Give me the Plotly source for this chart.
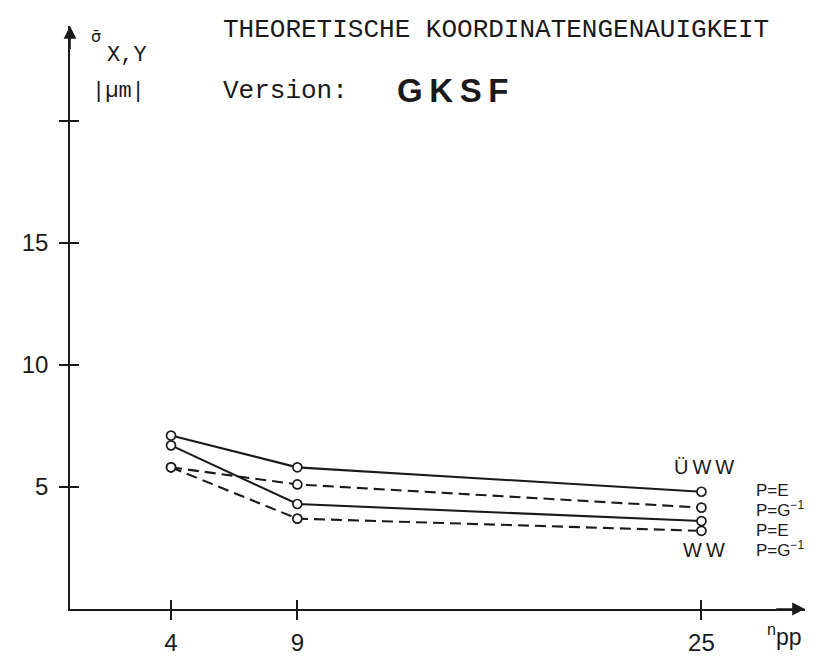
import plotly.graph_objects as go

# point count per image and the resulting mean coordinate accuracy (um)
npp = [4, 9, 25]

uww_pe = [7.1, 5.8, 4.8]
uww_pg = [5.8, 5.1, 4.15]
ww_pe = [6.7, 4.3, 3.6]
ww_pg = [5.8, 3.7, 3.2]

y_ticks = [5, 10, 15, 20]
y_tick_labels = ['5', '10', '15', '']

x_max = 29.1
y_max = 23.87

ink = '#1a1a1a'
mono = 'Liberation Mono'
sans = 'Liberation Sans'


def plot() -> None:
    fig = go.Figure()

    series = [
        ('ÜWW, P=E', uww_pe, 'solid'),
        ('ÜWW, P=G-1', uww_pg, '11px,6px'),
        ('WW, P=E', ww_pe, 'solid'),
        ('WW, P=G-1', ww_pg, '11px,6px'),
    ]
    for name, vals, dash in series:
        fig.add_trace(go.Scatter(
            x=npp, y=vals, name=name, mode='lines+markers',
            line={'color': ink, 'width': 2.1, 'dash': dash},
            marker={'symbol': 'circle', 'size': 9, 'color': 'white',
                    'line': {'color': ink, 'width': 1.7}},
            showlegend=False, cliponaxis=False,
        ))

    # empty trace so the overlay axes (inner half of the cross ticks) get drawn
    fig.add_trace(go.Scatter(x=[None], y=[None], xaxis='x2', yaxis='y2',
                             showlegend=False, hoverinfo='skip'))

    # arrow heads on the axes
    fig.add_annotation(x=x_max, y=0, ax=x_max - 1.2, ay=0, xref='x', yref='y',
                       axref='x', ayref='y', showarrow=True, arrowhead=2,
                       arrowsize=1.6, arrowwidth=1.6, arrowcolor=ink, text='')
    fig.add_annotation(x=0, y=y_max, ax=0, ay=y_max - 1.0, xref='x', yref='y',
                       axref='x', ayref='y', showarrow=True, arrowhead=2,
                       arrowsize=1.6, arrowwidth=1.6, arrowcolor=ink, text='')

    # header texts
    fig.add_annotation(x=0.206, y=0.993, xref='paper', yref='paper',
                       text='THEORETISCHE KOORDINATENGENAUIGKEIT', showarrow=False,
                       xanchor='left', yanchor='middle',
                       font={'family': mono, 'size': 26, 'color': ink})
    fig.add_annotation(x=0.206, y=0.888, xref='paper', yref='paper',
                       text='Version:', showarrow=False,
                       xanchor='left', yanchor='middle',
                       font={'family': mono, 'size': 26, 'color': ink})
    fig.add_annotation(x=0.442, y=0.889, xref='paper', yref='paper',
                       text='<b>G\u2009K\u2009S\u2009F</b>', showarrow=False,
                       xanchor='left', yanchor='middle',
                       font={'family': sans, 'size': 33, 'color': ink})

    # y axis title: sigma with bar, index X,Y and unit
    fig.add_annotation(x=0.026, y=0.982, xref='paper', yref='paper',
                       text='σ\u0304', showarrow=False,
                       xanchor='left', yanchor='middle',
                       font={'family': 'DejaVu Sans', 'size': 16, 'color': ink})
    fig.add_annotation(x=0.047, y=0.950, xref='paper', yref='paper',
                       text='X,Y', showarrow=False,
                       xanchor='left', yanchor='middle',
                       font={'family': mono, 'size': 22, 'color': ink})
    fig.add_annotation(x=0.027, y=0.888, xref='paper', yref='paper',
                       text='|µm|', showarrow=False,
                       xanchor='left', yanchor='middle',
                       font={'family': mono, 'size': 22, 'color': ink})

    # x axis title
    fig.add_annotation(x=0.945, y=-0.045, xref='paper', yref='paper',
                       text='<sup>n</sup>pp', showarrow=False,
                       xanchor='left', yanchor='middle',
                       font={'family': sans, 'size': 23, 'color': ink})

    # curve labels
    labels = [
        (25.1, 5.83, 'Ü\u2009W\u2009W', 'center', 20),
        (25.1, 2.42, 'W\u2009W', 'center', 20),
        (27.1, 4.84, 'P=E', 'left', 17),
        (27.1, 4.08, 'P=G<sup>−1</sup>', 'left', 17),
        (27.1, 3.21, 'P=E', 'left', 17),
        (27.1, 2.46, 'P=G<sup>−1</sup>', 'left', 17),
    ]
    for x, y, t, anchor, size in labels:
        fig.add_annotation(x=x, y=y, xref='x', yref='y', text=t, showarrow=False,
                           xanchor=anchor, yanchor='middle',
                           font={'family': sans, 'size': size, 'color': ink})

    axis_common = {
        'showgrid': False,
        'zeroline': False,
        'ticks': 'outside',
        'ticklen': 9,
        'tickwidth': 1.6,
        'tickcolor': ink,
        'showline': True,
        'linewidth': 1.6,
        'linecolor': ink,
        'tickfont': {'family': sans, 'size': 24, 'color': ink},
    }
    inner_ticks = {
        'showgrid': False,
        'zeroline': False,
        'ticks': 'inside',
        'ticklen': 9,
        'tickwidth': 1.6,
        'tickcolor': ink,
        'showline': False,
        'showticklabels': False,
    }

    fig.update_layout(
        width=824,
        height=660,
        margin={'l': 62, 'r': 27, 't': 18, 'b': 40},
        plot_bgcolor='white',
        paper_bgcolor='white',
        xaxis={**axis_common, 'range': [0, x_max], 'tickmode': 'array',
               'tickvals': npp, 'ticktext': [str(v) for v in npp],
               'ticklabelstandoff': 2},
        yaxis={**axis_common, 'range': [0, y_max], 'tickmode': 'array',
               'tickvals': y_ticks, 'ticktext': y_tick_labels,
               'ticklabelstandoff': 6},
        xaxis2={**inner_ticks, 'overlaying': 'x', 'anchor': 'y2', 'side': 'bottom',
                'range': [0, x_max], 'tickvals': npp},
        yaxis2={**inner_ticks, 'overlaying': 'y', 'anchor': 'x2', 'side': 'left',
                'range': [0, y_max], 'tickvals': y_ticks},
    )

    fig.write_html('out.html')


if __name__ == '__main__':
    plot()
